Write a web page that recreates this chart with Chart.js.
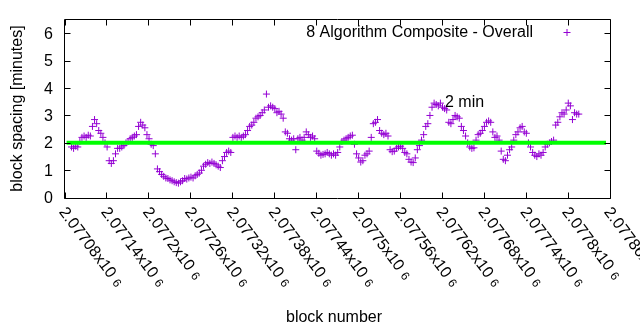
<!DOCTYPE html>
<html>
<head>
<meta charset="utf-8">
<script src="https://cdn.jsdelivr.net/npm/chart.js@4/dist/chart.umd.min.js"></script>
<style>
html,body{margin:0;padding:0;background:#fff;}
canvas{display:block;}
</style>
</head>
<body>
<canvas id="c" width="640" height="330"></canvas>
<script>
// ---- data ----
const seriesName = '8 Algorithm Composite - Overall';
const refLabel = '2 min';
const refValue = 2;
const refRange = [2077083, 2077855];

const blocks = [
2077090,2077093,2077096,2077099,2077102,2077105,2077108,2077111,2077114,2077117,
2077120,2077123,2077126,2077129,2077132,2077135,2077138,2077141,2077144,2077147,
2077150,2077153,2077156,2077159,2077162,2077165,2077168,2077171,2077174,2077177,
2077180,2077183,2077186,2077189,2077192,2077195,2077198,2077201,2077204,2077207,
2077210,2077213,2077216,2077219,2077222,2077225,2077228,2077231,2077234,2077237,
2077240,2077243,2077246,2077249,2077252,2077255,2077258,2077261,2077264,2077267,
2077270,2077273,2077276,2077279,2077282,2077285,2077288,2077291,2077294,2077297,
2077300,2077303,2077306,2077309,2077312,2077315,2077318,2077321,2077324,2077327,
2077330,2077333,2077336,2077339,2077342,2077345,2077348,2077351,2077354,2077357,
2077360,2077363,2077366,2077369,2077372,2077375,2077378,2077381,2077384,2077387,
2077390,2077393,2077396,2077399,2077402,2077405,2077408,2077411,2077414,2077417,
2077420,2077423,2077426,2077429,2077432,2077435,2077438,2077441,2077444,2077447,
2077450,2077453,2077456,2077459,2077462,2077465,2077468,2077471,2077474,2077477,
2077480,2077483,2077486,2077489,2077492,2077495,2077498,2077501,2077504,2077507,
2077510,2077513,2077516,2077519,2077522,2077525,2077528,2077531,2077534,2077537,
2077540,2077543,2077546,2077549,2077552,2077555,2077558,2077561,2077564,2077567,
2077570,2077573,2077576,2077579,2077582,2077585,2077588,2077591,2077594,2077597,
2077600,2077603,2077606,2077609,2077612,2077615,2077618,2077621,2077624,2077627,
2077630,2077633,2077636,2077639,2077642,2077645,2077648,2077651,2077654,2077657,
2077660,2077663,2077666,2077669,2077672,2077675,2077678,2077681,2077684,2077687,
2077690,2077693,2077696,2077699,2077702,2077705,2077708,2077711,2077714,2077717,
2077720,2077723,2077726,2077729,2077732,2077735,2077738,2077741,2077744,2077747,
2077750,2077753,2077756,2077759,2077762,2077765,2077768,2077771,2077774,2077777,
2077780,2077783,2077786,2077789,2077792,2077795,2077798,2077801,2077804,2077807,
2077810,2077813,2077816
];

const spacing = [
1.85,1.8,1.88,1.85,2.05,2.2,2.25,2.2,2.28,2.25,
2.6,2.85,2.7,2.45,2.35,2.2,2.0,1.85,1.35,1.25,
1.35,1.6,1.8,1.8,1.85,1.9,2.0,2.05,2.15,2.2,
2.25,2.3,2.6,2.75,2.65,2.55,2.3,2.15,1.95,1.9,
1.6,1.05,0.95,0.85,0.78,0.72,0.7,0.65,0.62,0.58,
0.55,0.53,0.58,0.62,0.7,0.68,0.72,0.75,0.72,0.8,
0.85,0.9,1.0,1.15,1.22,1.28,1.25,1.3,1.25,1.2,
1.15,1.1,1.35,1.5,1.65,1.7,1.65,2.2,2.25,2.2,
2.25,2.2,2.25,2.3,2.45,2.6,2.65,2.75,2.9,2.95,
3.0,3.1,3.2,3.78,3.3,3.35,3.3,3.25,3.1,3.15,
3.05,2.9,2.4,2.35,2.15,2.1,2.15,1.75,2.15,2.2,
2.1,2.2,2.4,2.3,2.2,2.25,2.15,1.7,1.62,1.55,
1.58,1.6,1.65,1.6,1.55,1.6,1.55,1.65,1.85,2.05,
2.1,2.15,2.2,2.25,2.28,1.95,1.6,1.45,1.3,1.35,
1.55,1.6,1.7,2.2,2.7,2.75,2.85,2.45,2.35,2.3,
2.35,2.25,1.75,1.68,1.7,1.8,1.85,1.88,1.8,1.65,
1.6,1.4,1.3,1.28,1.45,1.75,1.9,2.1,2.3,2.6,
2.7,3.0,3.3,3.45,3.4,3.35,3.45,3.3,3.25,3.2,
2.75,2.7,2.85,3.0,2.95,2.9,2.6,2.45,2.25,2.0,
1.85,1.8,1.82,2.1,2.3,2.35,2.45,2.6,2.75,2.8,
2.75,2.4,2.2,2.25,2.1,1.7,1.4,1.35,1.55,1.75,
1.85,2.1,2.3,2.4,2.55,2.6,2.4,2.35,2.0,1.85,
1.65,1.55,1.5,1.6,1.55,1.65,1.85,1.95,2.0,2.05,
2.1,2.65,2.75,2.95,3.1,3.05,3.2,3.45,3.35,2.85,
3.1,3.05,3.05
];

const xTickValues = [2077080,2077140,2077200,2077260,2077320,2077380,2077440,2077500,2077560,2077620,2077680,2077740,2077800,2077860];
const xTickLabels = ['2.07708x10','2.07714x10','2.0772x10','2.07726x10','2.07732x10','2.07738x10','2.07744x10','2.0775x10','2.07756x10','2.07762x10','2.07768x10','2.07774x10','2.0778x10','2.07786x10'];
const xTickExponent = '6';
const yTickValues = [0,1,2,3,4,5,6];
const yTickLabels = ['0','1','2','3','4','5','6'];
const xTitle = 'block number';
const yTitle = 'block spacing [minutes]';

// ---- styles ----
const FONT = '"Liberation Sans", Arial, Helvetica, sans-serif';
const PURPLE = '#9400d3';
const GREEN = '#00ff00';

const points = blocks.map((b, i) => ({x: b, y: spacing[i]}));

const gnuplotAxes = {
  id: 'gnuplotAxes',
  afterDatasetsDraw(chart) {
    const ctx = chart.ctx;
    const a = chart.chartArea;
    const xs = chart.scales.x, ys = chart.scales.y;
    const L = Math.round(a.left) - 0.5, R = Math.round(a.right) + 0.5;
    const T = Math.round(a.top) - 0.5, B = Math.round(a.bottom) + 0.5;
    ctx.save();
    ctx.strokeStyle = '#000';
    ctx.lineWidth = 1;
    ctx.beginPath();
    ctx.rect(L, T, R - L, B - T);
    yTickValues.forEach(v => {
      const py = Math.round(ys.getPixelForValue(v)) + 0.5;
      ctx.moveTo(L, py); ctx.lineTo(L + 6, py);
      ctx.moveTo(R, py); ctx.lineTo(R - 6, py);
    });
    xTickValues.forEach(v => {
      const px = Math.round(xs.getPixelForValue(v)) + 0.5;
      ctx.moveTo(px, B); ctx.lineTo(px, B - 6);
      ctx.moveTo(px, T); ctx.lineTo(px, T + 6);
    });
    ctx.stroke();

    ctx.fillStyle = '#000';
    ctx.font = '16px ' + FONT;
    ctx.textAlign = 'right';
    ctx.textBaseline = 'alphabetic';
    yTickValues.forEach((v, i) => {
      const py = ys.getPixelForValue(v);
      ctx.fillText(yTickLabels[i], 53, py + 5.5);
    });
    const ang = 53 * Math.PI / 180;
    xTickValues.forEach((v, i) => {
      const px = xs.getPixelForValue(v);
      ctx.save();
      ctx.translate(px - 2, 209);
      ctx.rotate(ang);
      ctx.textAlign = 'left';
      ctx.font = '16px ' + FONT;
      ctx.fillText(xTickLabels[i], 0, 5);
      const w = ctx.measureText(xTickLabels[i]).width;
      ctx.font = '12px ' + FONT;
      ctx.fillText(xTickExponent, w + 5, 5);
      ctx.restore();
    });
    ctx.font = '16px ' + FONT;
    ctx.textAlign = 'center';
    ctx.fillText(xTitle, 334, 321.5);
    ctx.save();
    ctx.translate(21.5, 108.5);
    ctx.rotate(-Math.PI / 2);
    ctx.fillText(yTitle, 0, 0);
    ctx.restore();
    ctx.textAlign = 'right';
    ctx.fillText(seriesName, 533, 37);
    ctx.strokeStyle = PURPLE;
    ctx.beginPath();
    ctx.moveTo(563.5, 32.5); ctx.lineTo(570.5, 32.5);
    ctx.moveTo(567, 29); ctx.lineTo(567, 36);
    ctx.stroke();
    ctx.fillStyle = '#000';
    ctx.textAlign = 'left';
    ctx.fillText(refLabel, 445, 107);
    ctx.restore();
  }
};

new Chart(document.getElementById('c'), {
  type: 'scatter',
  data: {
    datasets: [
      {
        type: 'line',
        label: refLabel,
        data: [{x: refRange[0], y: refValue}, {x: refRange[1], y: refValue}],
        borderColor: GREEN,
        borderWidth: 4,
        pointRadius: 0,
        fill: false,
        order: 0
      },
      {
        label: seriesName,
        data: points,
        pointStyle: 'cross',
        pointRadius: 3.5,
        pointBorderWidth: 1,
        borderColor: PURPLE,
        backgroundColor: PURPLE,
        order: 1
      }
    ]
  },
  options: {
    responsive: false,
    animation: false,
    devicePixelRatio: 1,
    layout: {padding: {left: 64.5, right: 30.5, top: 19.5, bottom: 132.3}},
    scales: {
      x: {type: 'linear', min: 2077080, max: 2077860, display: false},
      y: {type: 'linear', min: 0, max: 6.5, display: false}
    },
    plugins: {legend: {display: false}, tooltip: {enabled: false}},
    elements: {point: {hoverRadius: 3.5}}
  },
  plugins: [gnuplotAxes]
});
</script>
</body>
</html>
